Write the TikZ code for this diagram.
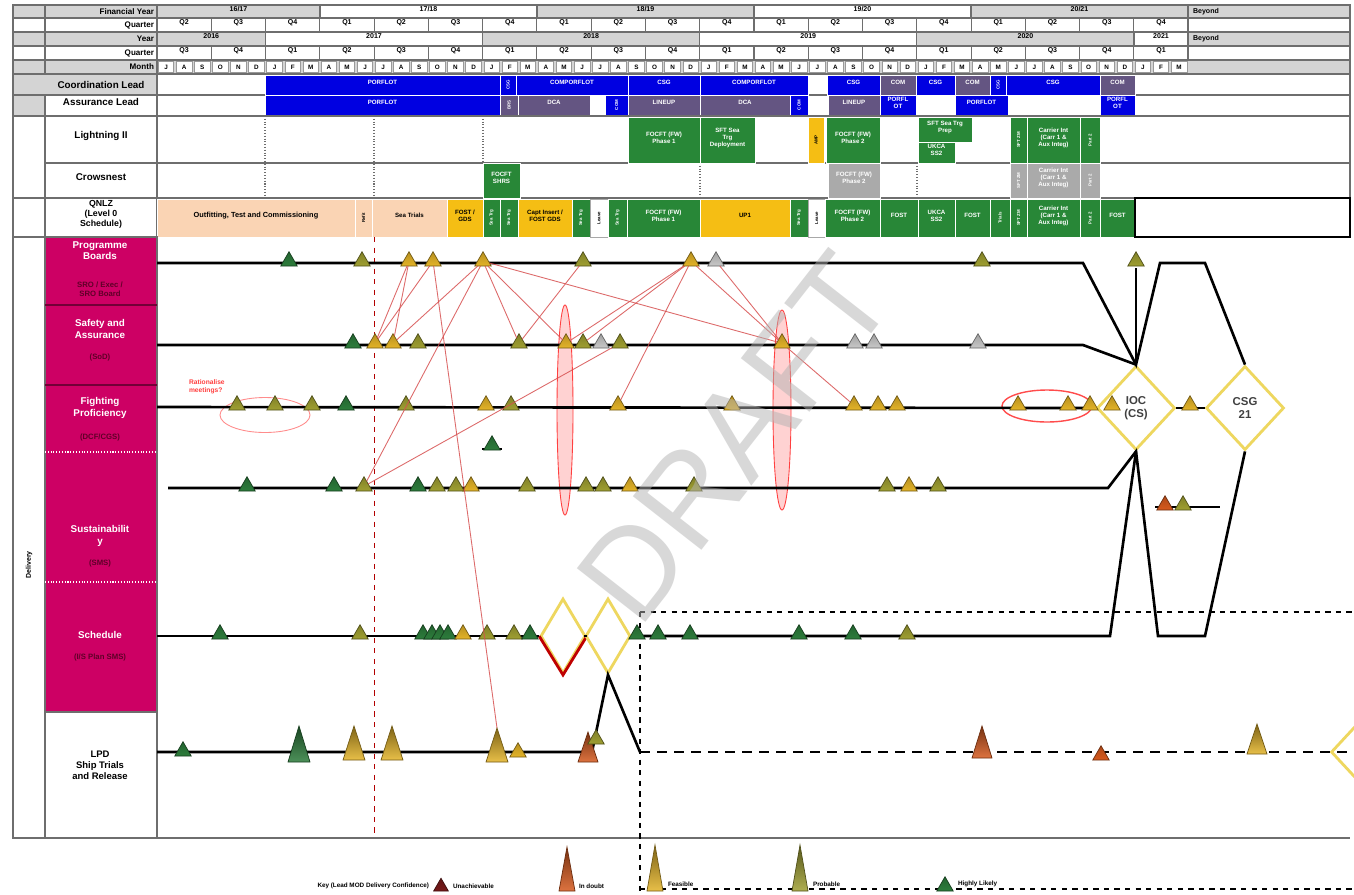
\documentclass[tikz,border=0pt]{standalone}
\usepackage{fontspec}
\setmainfont{Liberation Sans}
\usetikzlibrary{shapes.geometric, positioning, fit, calc}

% colours
\definecolor{leadblue}{RGB}{0,0,225}
\definecolor{leadpurple}{RGB}{100,85,130}
\definecolor{actgreen}{RGB}{40,135,55}
\definecolor{actamber}{RGB}{245,190,20}
\definecolor{actpeach}{RGB}{250,212,180}
\definecolor{actgrey}{RGB}{170,170,170}
\definecolor{gridgrey}{RGB}{110,110,110}
\definecolor{hdrgrey}{RGB}{212,212,212}
\definecolor{rowpink}{RGB}{205,0,100}
\definecolor{pinktext}{RGB}{95,0,40}
\definecolor{hlgreen}{RGB}{45,125,60}
\definecolor{prolive}{RGB}{160,160,50}
\definecolor{feamber}{RGB}{228,180,40}
\definecolor{idorange}{RGB}{215,90,30}
\definecolor{unred}{RGB}{120,25,25}
\definecolor{msgrey}{RGB}{200,200,200}
\definecolor{linkred}{RGB}{215,80,80}
\definecolor{diayellow}{RGB}{238,215,95}

% box from (x1,y1) to (x2,y2), text in the middle
\newcommand{\tslot}[7]{\node[slotbox, #6, fit={(#2,#3) (#4,#5)}] (#1) {#7};}
% tall milestone: name, x, base y, colour, height, half width
\newcommand{\bigms}[6]{%
  \draw[draw=#4!50!black, line width=0.4pt, top color=#4!55!black, bottom color=#4!85!white]
    (#2-#6,#3) -- (#2,#3-#5) -- (#2+#6,#3) -- cycle;
  \coordinate (#1) at (#2,#3-#5);}

\begin{document}
\begin{tikzpicture}[
  x=0.2mm, y=-0.2mm,
  every node/.style={font=\fontsize{4}{4.6}\selectfont\bfseries, inner sep=0.4pt, align=center},
  slotbox/.style={inner sep=0pt, outer sep=0pt, draw=white, line width=0.4pt, text=white,
    font=\fontsize{3.5}{4}\selectfont\bfseries},
  hdrcell/.style={draw=gridgrey, line width=0.6pt, text=black, font=\fontsize{4}{4.6}\selectfont\bfseries},
  lblcell/.style={draw=gridgrey, line width=0.7pt, text=black, font=\fontsize{5.6}{6.4}\selectfont\bfseries},
  blueslot/.style={fill=leadblue},
  purpleslot/.style={fill=leadpurple},
  greenslot/.style={fill=actgreen},
  amberslot/.style={fill=actamber, text=black},
  peachslot/.style={fill=actpeach, text=black},
  greyslot/.style={fill=actgrey},
  whiteslot/.style={fill=white, draw=gridgrey!60, text=black},
  vt/.style={label={[rotate=90, text=white, font=\fontsize{2.5}{3}\selectfont\bfseries]center:#1}},
  vtk/.style={label={[rotate=90, text=black, font=\fontsize{2.5}{3}\selectfont\bfseries]center:#1}},
  pinklbl/.style={text=white, font=\fontsize{5.6}{6.4}\selectfont\bfseries},
  pinksub/.style={text=pinktext, font=\fontsize{4.4}{5}\selectfont\bfseries},
  ms/.style={regular polygon, regular polygon sides=3, minimum size=3.8mm, inner sep=0pt, outer sep=0pt,
    draw=#1!50!black, line width=0.4pt, top color=#1!80!black, bottom color=#1, anchor=south},
  track/.style={line width=1.5pt, black},
  link/.style={draw=linkred, line width=0.5pt, opacity=0.85},
  milestone/.style={diamond, draw=diayellow, line width=1.6pt, fill=white, inner sep=0pt,
    font=\fontsize{6.5}{7.5}\selectfont\bfseries, text=black!75},
  risk/.style={ellipse, draw=red!75, line width=0.5pt, fill=red!35, fill opacity=0.5, inner sep=0pt},
  ]

  \useasboundingbox[fill=white] (0,0) rectangle (1354,894);

  % Header rows
  \foreach \ya/\yb/\sh [count=\rw] in {5/18/hdrgrey, 18/32/white, 32/46/hdrgrey, 46/60/white, 60/74/hdrgrey} {
    \tslot{hc\rw}{13}{\ya}{45}{\yb}{hdrcell, fill=\sh}{}
    \tslot{hl\rw}{45}{\ya}{157}{\yb}{hdrcell, fill=\sh}{}
  }
  \foreach \t/\yc [count=\rw] in {Financial Year/11.5, Quarter/25, Year/39, Quarter/53, Month/67}
    \node[anchor=east, font=\fontsize{4.6}{5}\selectfont\bfseries] (ht\rw) at (155,\yc) {\t};

  \tslot{fy1}{157}{5}{320}{18}{hdrcell, fill=hdrgrey}{16/17}
  \tslot{fy2}{320}{5}{537}{18}{hdrcell, fill=white}{17/18}
  \tslot{fy3}{537}{5}{754}{18}{hdrcell, fill=hdrgrey}{18/19}
  \tslot{fy4}{754}{5}{971}{18}{hdrcell, fill=white}{19/20}
  \tslot{fy5}{971}{5}{1188}{18}{hdrcell, fill=hdrgrey}{20/21}
  \tslot{fy6}{1188}{5}{1350}{18}{hdrcell, fill=hdrgrey}{}
  \node[anchor=west] (fyb) at (1192,11.5) {Beyond};

  \foreach \q [count=\k from 0] in {2,3,4,1,2,3,4,1,2,3,4,1,2,3,4,1,2,3,4} {
    \pgfmathsetmacro\xa{157+54.27*\k}
    \pgfmathsetmacro\xb{\xa+54.27}
    \tslot{fq\k}{\xa}{18}{\xb}{32}{hdrcell, fill=white}{Q\q}
  }
  \tslot{fqb}{1188}{18}{1350}{32}{hdrcell, fill=white}{}

  \tslot{yr1}{157}{32}{265.5}{46}{hdrcell, fill=hdrgrey}{2016}
  \tslot{yr2}{265.5}{32}{482.6}{46}{hdrcell, fill=white}{2017}
  \tslot{yr3}{482.6}{32}{699.7}{46}{hdrcell, fill=hdrgrey}{2018}
  \tslot{yr4}{699.7}{32}{916.8}{46}{hdrcell, fill=white}{2019}
  \tslot{yr5}{916.8}{32}{1134}{46}{hdrcell, fill=hdrgrey}{2020}
  \tslot{yr6}{1134}{32}{1188}{46}{hdrcell, fill=white}{2021}
  \tslot{yr7}{1188}{32}{1350}{46}{hdrcell, fill=hdrgrey}{}
  \node[anchor=west] (yrb) at (1192,39) {Beyond};

  \foreach \q [count=\k from 0] in {3,4,1,2,3,4,1,2,3,4,1,2,3,4,1,2,3,4,1} {
    \pgfmathsetmacro\xa{157+54.27*\k}
    \pgfmathsetmacro\xb{\xa+54.27}
    \tslot{cq\k}{\xa}{46}{\xb}{60}{hdrcell, fill=white}{Q\q}
  }
  \tslot{cqb}{1188}{46}{1350}{60}{hdrcell, fill=white}{}

  \tslot{mrow}{157}{60}{1350}{74}{hdrcell, fill=hdrgrey}{}
  \foreach \mo [count=\m from 0] in {J,A,S,O,N,D,
      J,F,M,A,M,J,J,A,S,O,N,D, J,F,M,A,M,J,J,A,S,O,N,D,
      J,F,M,A,M,J,J,A,S,O,N,D, J,F,M,A,M,J,J,A,S,O,N,D, J,F,M} {
    \pgfmathsetmacro\xm{166.05+18.09*\m}
    \node[draw=gridgrey!70, fill=white, minimum width=3.1mm, minimum height=2.2mm, inner sep=0pt,
      font=\fontsize{3.6}{4}\selectfont\bfseries] (mo\m) at (\xm,67) {\mo};
  }

  % Lead rows
  \tslot{lcoord}{13}{74}{157}{95}{lblcell, fill=hdrgrey}{}
  \node[font=\fontsize{5.6}{6.4}\selectfont\bfseries] (tcoord) at (101,85) {Coordination Lead};
  \tslot{lcol}{13}{95}{45}{116}{lblcell, fill=hdrgrey}{}
  \tslot{lassur}{45}{95}{157}{116}{lblcell, fill=white}{Assurance Lead}
  \tslot{lrow1}{157}{74}{1350}{95}{lblcell, fill=white}{}
  \tslot{lrow2}{157}{95}{1350}{116}{lblcell, fill=white}{}

  \tslot{co1}{265}{75}{500}{95}{blueslot}{PORFLOT}
  \tslot{co2}{500}{75}{516}{95}{blueslot, vt=CSG}{}
  \tslot{co3}{516}{75}{628}{95}{blueslot}{COMPORFLOT}
  \tslot{co4}{628}{75}{700}{95}{blueslot}{CSG}
  \tslot{co5}{700}{75}{808}{95}{blueslot}{COMPORFLOT}
  \tslot{co6}{827}{75}{880}{95}{blueslot}{CSG}
  \tslot{co7}{880}{75}{916}{95}{purpleslot}{COM}
  \tslot{co8}{916}{75}{955}{95}{blueslot}{CSG}
  \tslot{co9}{955}{75}{990}{95}{purpleslot}{COM}
  \tslot{co10}{990}{75}{1006}{95}{blueslot, vt=CSG}{}
  \tslot{co11}{1006}{75}{1100}{95}{blueslot}{CSG}
  \tslot{co12}{1100}{75}{1135}{95}{purpleslot}{COM}

  \tslot{as1}{265}{95}{500}{115}{blueslot}{PORFLOT}
  \tslot{as2}{500}{95}{518}{115}{purpleslot, vt=BRS}{}
  \tslot{as3}{518}{95}{590}{115}{purpleslot}{DCA}
  \tslot{as4}{605}{95}{628}{115}{blueslot, vt=COM}{}
  \tslot{as5}{628}{95}{700}{115}{purpleslot}{LINEUP}
  \tslot{as6}{700}{95}{790}{115}{purpleslot}{DCA}
  \tslot{as7}{790}{95}{808}{115}{blueslot, vt=COM}{}
  \tslot{as8}{828}{95}{880}{115}{purpleslot}{LINEUP}
  \tslot{as9}{880}{95}{916}{115}{blueslot}{PORFL\\OT}
  \tslot{as10}{955}{95}{1008}{115}{blueslot}{PORFLOT}
  \tslot{as11}{1100}{95}{1135}{115}{blueslot}{PORFL\\OT}

  % Lightning II / Crowsnest / QNLZ rows
  \tslot{lcol2}{13}{116}{45}{198}{lblcell, fill=white}{}
  \tslot{llight}{45}{116}{157}{163}{lblcell, fill=white}{Lightning II}
  \tslot{lcrow}{45}{163}{157}{198}{lblcell, fill=white}{Crowsnest}
  \tslot{lcol3}{13}{198}{45}{237}{lblcell, fill=white}{}
  \tslot{lqnlz}{45}{198}{157}{237}{lblcell, fill=white, font=\fontsize{5}{5.6}\selectfont\bfseries}{QNLZ\\(Level 0\\Schedule)}
  \tslot{lrow3}{157}{116}{1350}{163}{lblcell, fill=white}{}
  \tslot{lrow4}{157}{163}{1350}{198}{lblcell, fill=white}{}
  \tslot{lrow5}{157}{198}{1350}{237}{lblcell, fill=white}{}

  \draw[gridgrey, densely dotted, line width=0.6pt] (265,116) -- (265,198);
  \draw[gridgrey, densely dotted, line width=0.6pt] (374,116) -- (374,237);
  \draw[gridgrey, densely dotted, line width=0.6pt] (483,116) -- (483,163);
  \draw[gridgrey, densely dotted, line width=0.6pt] (700,163) -- (700,198);
  \draw[gridgrey, densely dotted, line width=0.6pt] (917,163) -- (917,198);

  \tslot{li1}{628}{117}{700}{163}{greenslot}{FOCFT (FW)\\Phase 1}
  \tslot{li2}{700}{117}{755}{163}{greenslot}{SFT Sea\\Trg\\Deployment}
  \tslot{li3}{808}{117}{824}{163}{amberslot, vtk=AMP}{}
  \tslot{li4}{826}{117}{880}{163}{greenslot}{FOCFT (FW)\\Phase 2}
  \tslot{li5}{918}{117}{972}{142}{greenslot}{SFT Sea Trg\\Prep}
  \tslot{li6}{918}{142}{955}{163}{greenslot}{UKCA\\SS2}
  \tslot{li7}{1010}{117}{1027}{163}{greenslot, vt=SFT ZM}{}
  \tslot{li8}{1027}{117}{1080}{163}{greenslot}{Carrier Int\\(Carr 1 \&\\Aux Integ)}
  \tslot{li9}{1080}{117}{1100}{163}{greenslot, vt=Part 2}{}

  \tslot{cr1}{483}{163}{520}{198}{greenslot}{FOCFT\\SHRS}
  \tslot{cr2}{828}{163}{880}{198}{greyslot}{FOCFT (FW)\\Phase 2}
  \tslot{cr3}{1010}{163}{1027}{198}{greyslot, vt=SFT ZM}{}
  \tslot{cr4}{1027}{163}{1080}{198}{greyslot}{Carrier Int\\(Carr 1 \&\\Aux Integ)}
  \tslot{cr5}{1080}{163}{1100}{198}{greyslot, vt=Part 2}{}

  \tslot{qn1}{157}{199}{355}{237}{peachslot, font=\fontsize{4.2}{5}\selectfont\bfseries}{Outfitting, Test and Commissioning}
  \tslot{qn2}{355}{199}{372}{237}{peachslot, vtk=Refit}{}
  \tslot{qn3}{372}{199}{447}{237}{peachslot}{Sea Trials}
  \tslot{qn4}{447}{199}{483}{237}{amberslot}{FOST /\\GDS}
  \tslot{qn5}{483}{199}{500}{237}{greenslot, vt=Sea Trg}{}
  \tslot{qn6}{500}{199}{518}{237}{greenslot, vt=Sea Trg}{}
  \tslot{qn7}{518}{199}{572}{237}{amberslot}{Capt Insert /\\FOST GDS}
  \tslot{qn8}{572}{199}{590}{237}{greenslot, vt=Sea Trg}{}
  \tslot{qn9}{590}{199}{608}{237}{whiteslot, vtk=Leave}{}
  \tslot{qn10}{608}{199}{627}{237}{greenslot, vt=Sea Trg}{}
  \tslot{qn11}{627}{199}{700}{237}{greenslot}{FOCFT (FW)\\Phase 1}
  \tslot{qn12}{700}{199}{790}{237}{amberslot}{UP1}
  \tslot{qn13}{790}{199}{808}{237}{greenslot, vt=Sea Trg}{}
  \tslot{qn14}{808}{199}{825}{237}{whiteslot, vtk=Leave}{}
  \tslot{qn15}{825}{199}{880}{237}{greenslot}{FOCFT (FW)\\Phase 2}
  \tslot{qn16}{880}{199}{918}{237}{greenslot}{FOST}
  \tslot{qn17}{918}{199}{955}{237}{greenslot}{UKCA\\SS2}
  \tslot{qn18}{955}{199}{990}{237}{greenslot}{FOST}
  \tslot{qn19}{990}{199}{1010}{237}{greenslot, vt=Trials}{}
  \tslot{qn20}{1010}{199}{1027}{237}{greenslot, vt=SFT ZM}{}
  \tslot{qn21}{1027}{199}{1080}{237}{greenslot}{Carrier Int\\(Carr 1 \&\\Aux Integ)}
  \tslot{qn22}{1080}{199}{1100}{237}{greenslot, vt=Part 2}{}
  \tslot{qn23}{1100}{199}{1135}{237}{greenslot}{FOST}
  \tslot{qn24}{1135}{198}{1350}{237}{slotbox, draw=black, line width=1.5pt, fill=white}{}

  % Delivery section labels
  \tslot{dcol}{13}{237}{45}{838}{lblcell, fill=white}{}
  \node[rotate=90, font=\fontsize{4}{4.5}\selectfont\bfseries] (deliv) at (29,565) {Delivery};
  \tslot{pink}{45}{237}{157}{712}{lblcell, fill=rowpink}{}
  \draw[rowpink!55!black, line width=0.6pt] (45,305) -- (157,305);
  \draw[rowpink!55!black, line width=0.6pt] (45,385) -- (157,385);
  \draw[white, densely dotted, line width=0.6pt] (45,452) -- (157,452);
  \draw[white, densely dotted, line width=0.6pt] (45,582) -- (157,582);
  \node[pinklbl] (lpb) at (100,251) {Programme\\Boards};
  \node[pinksub] (spb) at (100,289) {SRO / Exec /\\SRO Board};
  \node[pinklbl] (lsa) at (100,329) {Safety and\\Assurance};
  \node[pinksub] (ssa) at (100,357) {(SoD)};
  \node[pinklbl] (lfp) at (100,408) {Fighting\\Proficiency};
  \node[pinksub] (sfp) at (100,437) {(DCF/CGS)};
  \node[pinklbl] (lsu) at (100,536) {Sustainabilit\\y};
  \node[pinksub] (ssu) at (100,563) {(SMS)};
  \node[pinklbl] (lsc) at (100,635) {Schedule};
  \node[pinksub] (ssc) at (100,657) {(I/S Plan SMS)};
  \tslot{lpdc}{45}{712}{157}{838}{lblcell, fill=white}{}
  \node[font=\fontsize{5.4}{6.2}\selectfont\bfseries] (llp) at (100,765) {LPD\\Ship Trials\\and Release};
  \draw[gridgrey, line width=0.7pt] (157,838) -- (1350,838);
  \draw[red!70!black, dashed, line width=0.5pt] (374,237) -- (374,838);

  % Risk ellipses
  \node[risk, minimum width=3.2mm, minimum height=42mm] (riskA) at (565,410) {};
  \node[risk, minimum width=3.6mm, minimum height=40mm] (riskB) at (782,410) {};
  \node[ellipse, draw=red!45, line width=0.5pt, minimum width=18mm, minimum height=7mm] (ratA) at (265,415) {};
  \node[ellipse, draw=red!70, line width=0.8pt, minimum width=18mm, minimum height=6.4mm] (ratB) at (1047,406) {};
  \node[anchor=west, align=left, text=red!75, font=\fontsize{3.8}{4.4}\selectfont\bfseries] (ratt) at (188,387) {Rationalise\\meetings?};

  % Key milestones
  \node[milestone, minimum width=15.6mm, minimum height=16.8mm] (ioc) at (1136,408) {IOC\\(CS)};
  \node[milestone, minimum width=15.6mm, minimum height=16.8mm] (csg) at (1245,408) {CSG\\21};
  \node[milestone, minimum width=9mm, minimum height=15mm] (sd1) at (563,636) {};
  \draw[red!75!black, line width=1.6pt] (sd1.west) -- (sd1.south) -- (sd1.east);
  \node[milestone, minimum width=9mm, minimum height=15mm] (sd2) at (608,636) {};
  \node[milestone, minimum width=15.6mm, minimum height=16.8mm] (rel) at (1370,752) {};

  % Tracks
  \coordinate (pbS) at (157,263);  \coordinate (pbE) at (1083,263);
  \coordinate (saS) at (157,345);  \coordinate (saE) at (1083,345);
  \coordinate (fpS) at (157,407);
  \coordinate (suS) at (168,488);  \coordinate (suE) at (1108,488);
  \coordinate (scS) at (157,636);  \coordinate (scE) at (1110,636);
  \coordinate (lpS) at (157,752);  \coordinate (lpE) at (592,752);
  \coordinate (lpF) at (640,752);  \coordinate (lpG) at (1354,752);
  \coordinate (upA) at (1160,263); \coordinate (upB) at (1205,263);
  \coordinate (upC) at (1136,268);
  \coordinate (dnA) at (1158,636); \coordinate (dnB) at (1205,636);
  \coordinate (suA) at (1155,507); \coordinate (suB) at (1220,507);
  \coordinate (fxA) at (482,449);  \coordinate (fxB) at (502,449);

  \draw[track] (pbS) -- (pbE) -- (ioc.north) -- (upA) -- (upB) -- (csg.north);
  \draw[track] (ioc.north) -- (upC);
  \draw[track] (saS) -- (saE) -- (ioc.north);
  \draw[track] (fpS) -- (ioc.west);
  \draw[track] (ioc.east) -- (csg.west);
  \draw[track] (suS) -- (suE) -- (ioc.south) -- (dnA) -- (dnB) -- (csg.south);
  \draw[track] (scS) -- (sd1.west);
  \draw[track] (sd1.east) -- (sd2.west);
  \draw[track] (sd2.east) -- (scE) -- (ioc.south);
  \draw[track] (suA) -- (suB);
  \draw[line width=0.8pt] (fxA) -- (fxB);
  \draw[track] (lpS) -- (lpE) -- (sd2.south) -- (lpF);
  \draw[track, dash pattern=on 2mm off 1.4mm] (lpF) -- (lpG);
  \draw[black, dashed, line width=0.7pt] (640,612) -- (1354,612);
  \draw[black, dashed, line width=0.7pt] (640,612) -- (640,894);
  \draw[black, dashed, line width=0.7pt] (640,889) -- (1354,889);

  % Milestones
  \foreach \x/\col [count=\i] in {289/hlgreen,362/prolive,409/feamber,433/feamber,483/feamber,
      583/prolive,691/feamber,716/msgrey,982/prolive,1136/prolive}
    \node[ms=\col] (pb\i) at (\x,266) {};
  \foreach \x/\col [count=\i] in {353/hlgreen,375/feamber,393/feamber,418/prolive,519/prolive,
      566/feamber,583/prolive,601/msgrey,620/prolive,782/feamber,855/msgrey,874/msgrey,978/msgrey}
    \node[ms=\col] (sa\i) at (\x,348) {};
  \foreach \x/\col [count=\i] in {237/prolive,275/prolive,312/prolive,346/hlgreen,406/prolive,
      486/feamber,511/prolive,618/feamber,732/feamber,854/feamber,878/feamber,897/feamber,
      1018/feamber,1068/feamber,1090/feamber,1112/feamber,1190/feamber}
    \node[ms=\col] (fp\i) at (\x,410) {};
  \node[ms=hlgreen] (fpx) at (492,450) {};
  \foreach \x/\col [count=\i] in {247/hlgreen,334/hlgreen,364/prolive,418/hlgreen,437/prolive,
      456/prolive,471/feamber,527/prolive,586/prolive,603/prolive,630/feamber,694/prolive,
      887/prolive,909/feamber,938/prolive}
    \node[ms=\col] (su\i) at (\x,491) {};
  \node[ms=idorange] (sux1) at (1165,510) {};
  \node[ms=prolive] (sux2) at (1183,510) {};
  \foreach \x/\col [count=\i] in {220/hlgreen,360/prolive,423/hlgreen,432/hlgreen,440/hlgreen,
      448/hlgreen,463/feamber,487/prolive,514/prolive,530/hlgreen,637/hlgreen,658/hlgreen,
      690/hlgreen,799/hlgreen,853/hlgreen,907/prolive}
    \node[ms=\col] (sc\i) at (\x,639) {};

  \node[ms=hlgreen] (lp1) at (183,756) {};
  \bigms{lp2}{299}{762}{hlgreen}{36}{11}
  \bigms{lp3}{354}{760}{feamber}{34}{11}
  \bigms{lp4}{392}{760}{feamber}{34}{11}
  \bigms{lp5}{497}{762}{feamber}{34}{11}
  \node[ms=feamber] (lp6) at (518,757) {};
  \bigms{lp7}{588}{762}{idorange}{30}{10}
  \node[ms=prolive] (lp8) at (596,744) {};
  \bigms{lp9}{982}{758}{idorange}{32}{10}
  \node[ms=idorange] (lp10) at (1101,760) {};
  \bigms{lp11}{1257}{754}{feamber}{30}{10}

  % Dependencies
  \draw[link] (pb3) -- (sa2);
  \draw[link] (pb3) -- (sa3);
  \draw[link] (pb4) -- (sa2);
  \draw[link] (pb5) -- (sa3);
  \draw[link] (pb5) -- (sa5);
  \draw[link] (pb5) -- (sa6);
  \draw[link] (pb5) -- (sa10);
  \draw[link] (pb5) -- (su3);
  \draw[link] (pb4) -- (lp5);
  \draw[link] (pb6) -- (sa5);
  \draw[link] (pb7) -- (sa6);
  \draw[link] (pb7) -- (sa7);
  \draw[link] (pb7) -- (fp8);
  \draw[link] (pb7) -- (sa10);
  \draw[link] (pb8) -- (sa10);
  \draw[link] (sa9) -- (su3);
  \draw[link] (sa10) -- (fp10);

  % Key
  \node[anchor=east, font=\fontsize{3.6}{4}\selectfont\bfseries] (keyt) at (430,886) {Key (Lead MOD Delivery Confidence)};
  \node[ms=unred, minimum size=3.4mm] (kun) at (441,891) {};
  \node[anchor=west, font=\fontsize{3.6}{4}\selectfont\bfseries] (kunt) at (452,886) {Unachievable};
  \bigms{kid}{567}{891}{idorange}{44}{8}
  \node[anchor=west, font=\fontsize{3.6}{4}\selectfont\bfseries] (kidt) at (578,886) {In doubt};
  \bigms{kfe}{655}{891}{feamber}{46}{8}
  \node[anchor=west, font=\fontsize{3.6}{4}\selectfont\bfseries] (kfet) at (667,884) {Feasible};
  \bigms{kpr}{800}{891}{prolive}{46}{8}
  \node[anchor=west, font=\fontsize{3.6}{4}\selectfont\bfseries] (kprt) at (812,884) {Probable};
  \node[ms=hlgreen] (khl) at (945,891) {};
  \node[anchor=west, font=\fontsize{3.6}{4}\selectfont\bfseries] (khlt) at (957,884) {Highly Likely};

  % Watermark
  \node[rotate=52, text=black!30, opacity=0.5, font=\fontsize{72}{72}\selectfont] (draft) at (735,438) {DRAFT};

\end{tikzpicture}
\end{document}
